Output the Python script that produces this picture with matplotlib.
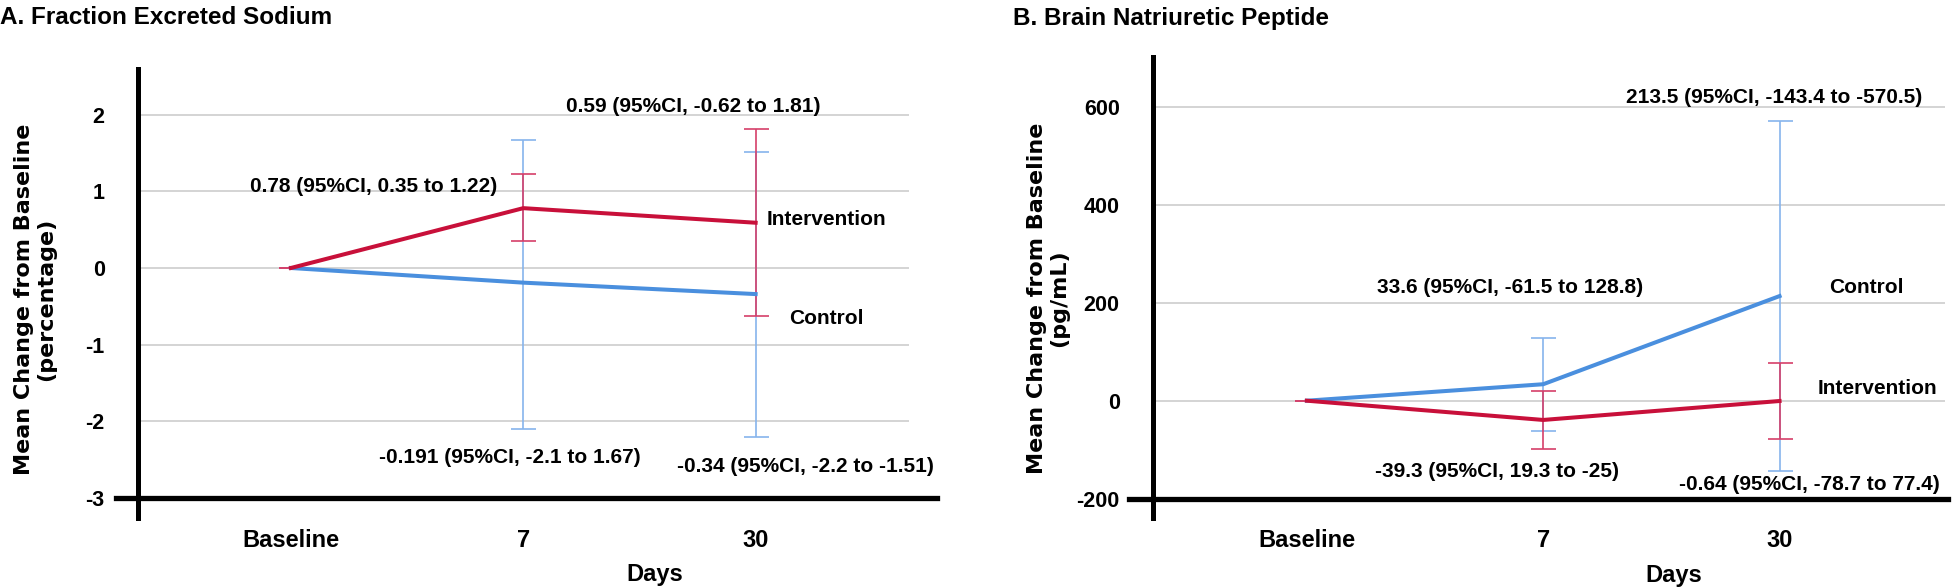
import numpy as np
import matplotlib
matplotlib.use("Agg")
import matplotlib.pyplot as plt
from matplotlib.transforms import ScaledTranslation

# data
days = ["Baseline", "7", "30"]

# A. fraction excreted sodium (percentage)
fena_int_mean = [0, 0.78, 0.59]
fena_int_lo = [0, 0.35, -0.62]
fena_int_hi = [0, 1.22, 1.81]
fena_ctl_mean = [0, -0.191, -0.34]
fena_ctl_lo = [0, -2.1, -2.2]
fena_ctl_hi = [0, 1.67, 1.51]
fena_ticks = [-3, -2, -1, 0, 1, 2]

# B. brain natriuretic peptide (pg/mL)
bnp_int_mean = [0, -39.3, -0.64]
bnp_int_lo = [0, -97.9, -78.7]
bnp_int_hi = [0, 19.3, 77.4]
bnp_ctl_mean = [0, 33.6, 213.5]
bnp_ctl_lo = [0, -61.5, -143.4]
bnp_ctl_hi = [0, 128.8, 570.5]
bnp_ticks = [-200, 0, 200, 400, 600]

red = "#c8103a"
red_bar = "#d6406a"
blue = "#4a8fde"
blue_bar = "#86b4ec"
grid_col = "#d4d4d4"

plt.rcParams['font.family'] = ['Liberation Sans', 'DejaVu Sans']
plt.rcParams['font.weight'] = 'bold'
plt.rcParams['axes.labelweight'] = 'bold'
plt.rcParams['axes.unicode_minus'] = False

fig = plt.figure(figsize=(19.52, 5.88), dpi=100)
axA = fig.add_axes([138/1952, 70/588, 771/1952, 449/588])
axB = fig.add_axes([1153/1952, 70/588, 792/1952, 461/588])


def draw_panel(ax, int_mean, int_lo, int_hi, ctl_mean, ctl_lo, ctl_hi,
               ticks, xlim, ylim, ylabel, notes, shifts, lab_x, lab_y, base_ext):
    x = np.arange(len(days))
    for mean, lo, hi, c, cb in [(ctl_mean, ctl_lo, ctl_hi, blue, blue_bar),
                                (int_mean, int_lo, int_hi, red, red_bar)]:
        mean, lo, hi = np.array(mean), np.array(lo), np.array(hi)
        ax.errorbar(x, mean, yerr=[mean - lo, hi - mean], fmt='none',
                    ecolor=cb, elinewidth=1.2, capsize=9, capthick=1.2, zorder=2)
        ax.plot(x, mean, color=c, lw=2.9, zorder=3)

    for v in ticks[1:]:
        ax.axhline(v, color=grid_col, lw=1.4, zorder=0)
    ax.axhline(ticks[0], xmin=base_ext[0], xmax=base_ext[1], color='black',
               lw=3.8, clip_on=False, zorder=4)

    ax.set_xlim(*xlim)
    ax.set_ylim(*ylim)
    ax.set_yticks(ticks)
    ax.set_xticks(x)
    ax.set_xticklabels(days)
    for lbl, dx in zip(ax.get_xticklabels(), shifts):
        lbl.set_transform(lbl.get_transform() + ScaledTranslation(dx/72, 0, fig.dpi_scale_trans))
    ax.tick_params(axis='y', length=0, pad=24, labelsize=15.5)
    ax.tick_params(axis='x', length=0, pad=8, labelsize=17)

    for s in ['top', 'right', 'bottom']:
        ax.spines[s].set_visible(False)
    ax.spines['left'].set_linewidth(3.6)
    ax.spines['left'].set_zorder(5)

    ax.set_xlabel("Days", fontsize=17, fontweight='bold')
    ax.xaxis.set_label_coords(lab_x, -0.1)
    ax.set_ylabel(ylabel, fontsize=16, family='DejaVu Sans', fontweight='bold',
                  linespacing=1.15)
    ax.yaxis.set_label_coords(-0.106, lab_y)

    for tx, ty, s in notes:
        ax.text(tx, ty, s, ha='center', va='center', fontsize=15, fontweight='bold')


draw_panel(axA, fena_int_mean, fena_int_lo, fena_int_hi,
           fena_ctl_mean, fena_ctl_lo, fena_ctl_hi, fena_ticks,
           (-0.658, 2.66), (-3.259, 2.594),
           "Mean Change from Baseline\n(percentage)",
           [(0.357, 1.056, "0.78 (95%CI, 0.35 to 1.22)"),
            (1.733, 2.099, "0.59 (95%CI, -0.62 to 1.81)"),
            (2.305, 0.626, "Intervention"),
            (2.305, -0.652, "Control"),
            (0.942, -2.464, "-0.191 (95%CI, -2.1 to 1.67)"),
            (2.215, -2.594, "-0.34 (95%CI, -2.2 to -1.51)")],
           [28, 7, 11], 0.67, 0.486, (-0.029, 1.036))

draw_panel(axB, bnp_int_mean, bnp_int_lo, bnp_int_hi,
           bnp_ctl_mean, bnp_ctl_lo, bnp_ctl_hi, bnp_ticks,
           (-0.651, 2.70), (-239.4, 701.4),
           "Mean Change from Baseline\n(pg/mL)",
           [(1.975, 617.8, "213.5 (95%CI, -143.4 to -570.5)"),
            (0.858, 230, "33.6 (95%CI, -61.5 to 128.8)"),
            (2.368, 230, "Control"),
            (2.414, 23.9, "Intervention"),
            (0.803, -143.5, "-39.3 (95%CI, 19.3 to -25)"),
            (2.127, -172, "-0.64 (95%CI, -78.7 to 77.4)")],
           [25, 2, 1], 0.657, 0.477, (-0.030, 1.004))

fig.text(0.0, 1 - 18/588, "A. Fraction Excreted Sodium", ha='left', va='center',
         fontsize=17.5, fontweight='bold')
fig.text(1013/1952, 1 - 18/588, "B. Brain Natriuretic Peptide", ha='left', va='center',
         fontsize=17.5, fontweight='bold')

fig.savefig("out.png", dpi=100)
